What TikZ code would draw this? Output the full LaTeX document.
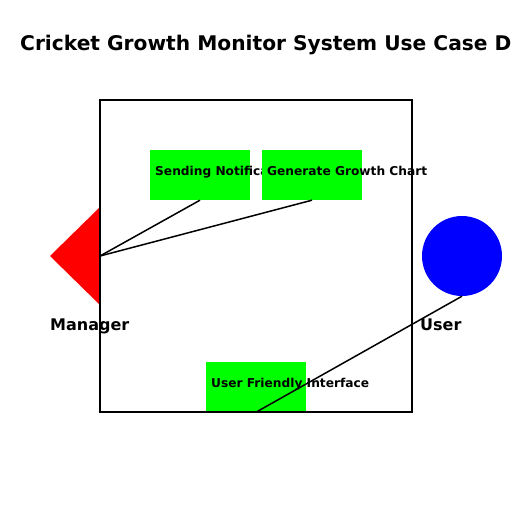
\documentclass[tikz,border=0pt]{standalone}
\usepackage{fontspec}
\setmainfont{DejaVu Sans}
\tikzset{
  usecase/.style={fill=green,minimum width=100pt,minimum height=50pt,inner sep=0pt},
  uclabel/.style={anchor=base west,inner sep=0pt,font=\fontsize{12.2}{14}\selectfont\bfseries},
  actorlabel/.style={anchor=base west,inner sep=0pt,font=\fontsize{16}{19}\selectfont\bfseries},
  link/.style={line width=1.5pt}
}
\begin{document}
\begin{tikzpicture}[x=1pt,y=-1pt]
\useasboundingbox (0,0) rectangle (512,512);
\def\systembox{(100,100) rectangle (412,412)}
    % use cases
    \node[usecase] (notify) at (200,175) {};
    \node[uclabel] (notifytxt) at (155,175) {Sending Notification};
    \node[usecase] (chart) at (312,175) {};
    \node[uclabel] (charttxt) at (267,175) {Generate Growth Chart};
    \node[usecase] (ufi) at (256,387) {};
    \node[uclabel] (ufitxt) at (211,387) {User Friendly Interface};
    % actors
    \fill[red] (50,256) -- (100,207) -- (100,305) -- cycle;
    \coordinate (mgr) at (100,256);
    \node[circle,fill=blue,minimum size=80pt,inner sep=0pt] (user) at (462,256) {};
    \node[actorlabel] (mgrtxt) at (50,330) {Manager};
    \node[actorlabel] (usertxt) at (420,330) {User};
    \node[anchor=base west,inner sep=0pt,font=\fontsize{20.2}{24}\selectfont\bfseries] (title) at (20,50) {Cricket Growth Monitor System Use Case D};
		\draw[link] \systembox;
    \draw[link] (mgr) -- (notify.south);
    \draw[link] (mgr) -- (chart.south);
    \draw[link] (user.south) -- (ufi.south);
\end{tikzpicture}
\end{document}
